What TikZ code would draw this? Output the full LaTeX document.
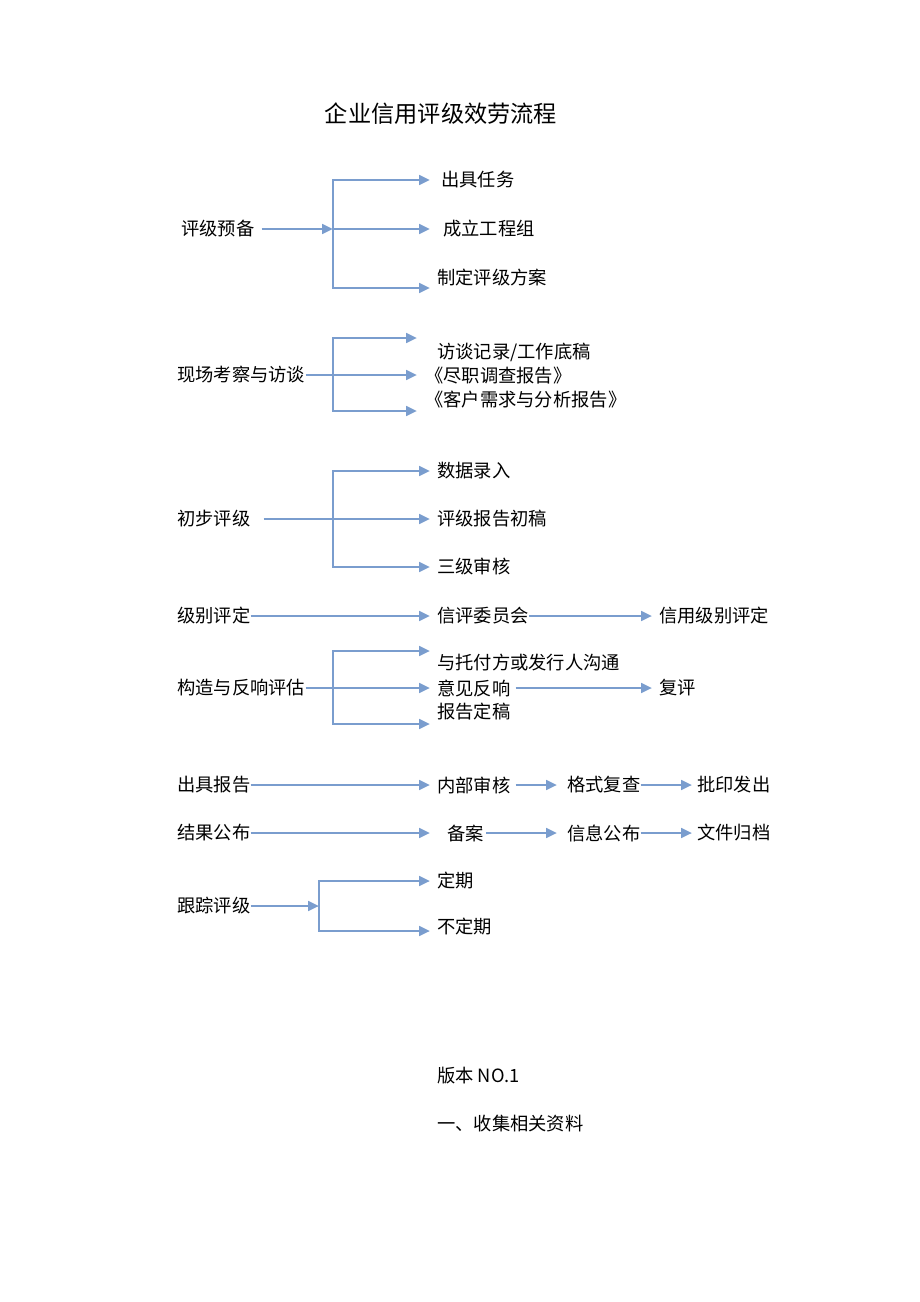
\documentclass[tikz,border=0pt]{standalone}
\usepackage{fontspec}
\setmainfont{Noto Sans CJK SC}
\usetikzlibrary{arrows.meta}
\definecolor{flowblue}{RGB}{122,157,206}
\newcommand{\fsz}{\fontsize{13pt}{15pt}\selectfont}
\tikzset{
  lbl/.style={anchor=west, inner sep=0pt, font=\fsz},
  flow/.style={draw=flowblue, line width=1.8pt, -{Triangle[length=0.27cm,width=0.24cm]}},
  gap/.style={shorten >=0.175cm}
}
\begin{document}
\begin{tikzpicture}[x=0.025cm, y=-0.025cm]
      \useasboundingbox (0,0) rectangle (920,1302);
      \node (title)[inner sep=0pt, font=\fontsize{16.5pt}{19pt}\selectfont] at (441,114) {企业信用评级效劳流程};
      % 评级预备
      \node (s1)[lbl] at (181,229) {评级预备};
      \coordinate (j1) at (333,229);
      \node (t11)[lbl] at (441,180) {出具任务};
      \node (t12)[lbl] at (443,229) {成立工程组};
      \node (t13)[lbl] at (437,278) {制定评级方案};
      \coordinate (e13) at (430,288);
      \draw[flow, shorten <=0.175cm] (s1) -- (j1);
      \draw[flow, shorten >=0.275cm] (j1) |- (t11);
      \draw[flow, shorten >=0.325cm] (j1) -- (t12);
      \draw[flow] (j1) |- (e13);
      % 现场考察与访谈
      \node (s2)[lbl] at (177,375) {现场考察与访谈};
      \coordinate (j2) at (333,375);
      \coordinate (e21) at (417,338);
      \coordinate (e22) at (417,375);
      \coordinate (e23) at (417,411);
      \node (t21)[lbl] at (437,352) {访谈记录/工作底稿};
      \node (t22)[lbl] at (425,376) {《尽职调查报告》};
      \node (t23)[lbl] at (425,400) {《客户需求与分析报告》};
      \draw[flow] (s2) -- (e22);
      \draw[flow] (j2) |- (e21);
      \draw[flow] (j2) |- (e23);
      % 初步评级
      \node (s3)[lbl] at (177,519) {初步评级};
      \coordinate (j3) at (333,519);
      \node (t31)[lbl] at (437,471) {数据录入};
      \node (t32)[lbl] at (437,519) {评级报告初稿};
      \node (t33)[lbl] at (437,567) {三级审核};
      \draw[flow, gap, shorten <=0.325cm] (s3) -- (t32);
      \draw[flow, gap] (j3) |- (t31);
      \draw[flow, gap] (j3) |- (t33);
      % 级别评定
      \node (s4)[lbl] at (177,616) {级别评定};
      \node (t41)[lbl] at (437,616) {信评委员会};
      \node (t42)[lbl] at (659,616) {信用级别评定};
      \draw[flow, gap] (s4) -- (t41);
      \draw[flow, gap] (t41) -- (t42);
      % 构造与反响评估
      \node (s5)[lbl] at (177,688) {构造与反响评估};
      \coordinate (j5) at (333,688);
      \coordinate (e51) at (430,651);
      \coordinate (e53) at (430,724);
      \node (t51)[lbl] at (437,663) {与托付方或发行人沟通};
      \node (t52)[lbl] at (437,688) {意见反响};
      \node (t53)[lbl] at (437,712) {报告定稿};
      \node (t54)[lbl] at (659,688) {复评};
      \draw[flow, gap] (s5) -- (t52);
      \draw[flow] (j5) |- (e51);
      \draw[flow] (j5) |- (e53);
      \draw[flow, gap, shorten <=0.125cm] (t52) -- (t54);
      % 出具报告
      \node (s6)[lbl] at (177,785) {出具报告};
      \node (t61)[lbl] at (437,785) {内部审核};
      \node (t62)[lbl] at (567,785) {格式复查};
      \node (t63)[lbl] at (697,785) {批印发出};
      \draw[flow, gap] (s6) -- (t61);
      \draw[flow, shorten <=0.125cm, shorten >=0.25cm] (t61) -- (t62);
      \draw[flow, shorten >=0.125cm] (t62) -- (t63);
      % 结果公布
      \node (s7)[lbl] at (177,833) {结果公布};
      \node (t71)[lbl] at (447,833) {备案};
      \node (t72)[lbl] at (567,833) {信息公布};
      \node (t73)[lbl] at (697,833) {文件归档};
      \draw[flow, shorten >=0.425cm] (s7) -- (t71);
      \draw[flow, shorten <=0.05cm, shorten >=0.25cm] (t71) -- (t72);
      \draw[flow, shorten >=0.125cm] (t72) -- (t73);
      % 跟踪评级
      \node (s8)[lbl] at (177,906) {跟踪评级};
      \coordinate (j8) at (319,906);
      \node (t81)[lbl] at (437,881) {定期};
      \node (t82)[lbl] at (437,927) {不定期};
      \coordinate (e82) at (430,931);
      \draw[flow] (s8) -- (j8);
      \draw[flow, gap] (j8) |- (t81);
      \draw[flow] (j8) |- (e82);
      % 版本
      \node (ver)[lbl] at (437,1076) {版本 NO.1};
      \node (sec1)[lbl] at (437,1124) {一、收集相关资料};
    \end{tikzpicture}
\end{document}
